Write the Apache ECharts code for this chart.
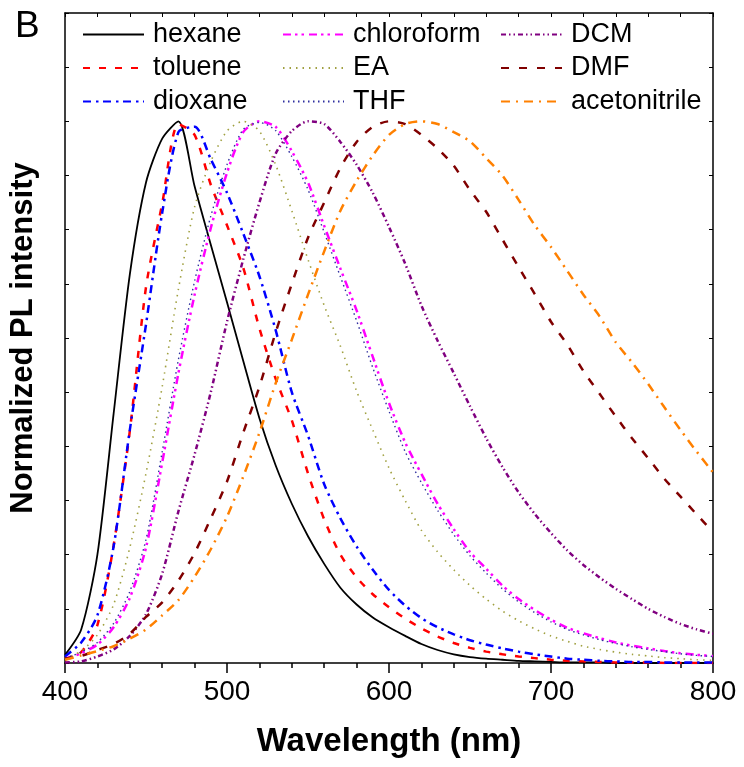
<!DOCTYPE html>
<html><head><meta charset="utf-8">
<script src="https://cdn.jsdelivr.net/npm/echarts@6/dist/echarts.min.js"></script>
<style>html,body{margin:0;padding:0;background:#fff}#c{width:744px;height:767px}</style>
</head><body><div id="c"></div>
<script>
const wavelength = [400,410,420,430,440,450,460,470,480,490,500,510,520,530,540,550,560,570,580,590,600,610,620,630,640,650,660,670,680,690,700,710,720,730,740,750,760,770,780,790,800];
const hexane = [0.015,0.062,0.2,0.46,0.717,0.887,0.968,1.0,0.88,0.772,0.666,0.558,0.452,0.365,0.294,0.234,0.183,0.139,0.108,0.084,0.066,0.05,0.035,0.024,0.016,0.011,0.008,0.006,0.004,0.003,0.002,0.001,0.001,0.001,0,0,0,0,0,0,0];
const toluene = [0.007,0.02,0.07,0.217,0.428,0.694,0.848,0.995,0.975,0.883,0.808,0.73,0.618,0.525,0.448,0.35,0.265,0.2,0.158,0.127,0.103,0.082,0.064,0.049,0.037,0.028,0.021,0.016,0.012,0.009,0.006,0.004,0.003,0.002,0.001,0.001,0.001,0,0,0,0];
const dioxane = [0.012,0.038,0.088,0.215,0.43,0.625,0.831,0.98,0.99,0.93,0.868,0.793,0.714,0.615,0.5,0.42,0.33,0.267,0.215,0.172,0.135,0.106,0.083,0.066,0.053,0.042,0.034,0.027,0.021,0.016,0.012,0.008,0.006,0.004,0.003,0.002,0.002,0.001,0.001,0.001,0.001];
const chloroform = [0.008,0.018,0.034,0.066,0.12,0.213,0.37,0.535,0.68,0.803,0.905,0.98,1.0,0.99,0.945,0.887,0.807,0.728,0.651,0.565,0.48,0.407,0.349,0.294,0.247,0.205,0.174,0.143,0.118,0.098,0.08,0.065,0.055,0.046,0.038,0.032,0.027,0.022,0.018,0.015,0.013];
const EA = [0.008,0.022,0.052,0.108,0.213,0.35,0.51,0.69,0.842,0.926,0.982,1.0,0.982,0.92,0.835,0.745,0.66,0.585,0.502,0.43,0.36,0.3,0.245,0.205,0.172,0.143,0.118,0.096,0.078,0.063,0.05,0.04,0.031,0.025,0.02,0.016,0.013,0.01,0.008,0.006,0.005];
const THF = [0.009,0.02,0.038,0.073,0.132,0.228,0.39,0.56,0.705,0.825,0.92,0.985,0.998,0.983,0.935,0.874,0.795,0.713,0.632,0.545,0.465,0.39,0.333,0.282,0.237,0.198,0.166,0.137,0.113,0.093,0.076,0.062,0.052,0.043,0.036,0.03,0.025,0.021,0.017,0.014,0.012];
const DCM = [0.001,0.003,0.012,0.025,0.05,0.09,0.165,0.28,0.385,0.5,0.63,0.745,0.85,0.94,0.982,1.0,0.995,0.962,0.92,0.868,0.805,0.737,0.66,0.595,0.535,0.474,0.415,0.362,0.315,0.275,0.24,0.208,0.181,0.158,0.137,0.118,0.1,0.085,0.072,0.062,0.054];
const DMF = [0.008,0.013,0.024,0.035,0.054,0.085,0.112,0.152,0.203,0.267,0.335,0.425,0.51,0.61,0.7,0.785,0.85,0.914,0.962,0.99,1.0,0.995,0.975,0.95,0.918,0.873,0.833,0.782,0.731,0.681,0.63,0.588,0.539,0.497,0.455,0.415,0.378,0.34,0.307,0.274,0.242];
const acetonitrile = [0.006,0.014,0.022,0.031,0.045,0.062,0.088,0.116,0.159,0.21,0.27,0.344,0.425,0.516,0.597,0.68,0.76,0.835,0.89,0.937,0.975,0.995,1.0,0.995,0.98,0.963,0.932,0.9,0.855,0.808,0.768,0.724,0.68,0.64,0.592,0.555,0.515,0.472,0.43,0.39,0.352];
const xTicks = [400,500,600,700,800];

const FONT = 'Liberation Sans, Arial, sans-serif';
const seriesDefs = [
  {name:'hexane', data:hexane, color:'#000000', width:1.8, type:'solid'},
  {name:'toluene', data:toluene, color:'#FF0000', width:2.5, type:[7,9]},
  {name:'dioxane', data:dioxane, color:'#0000FF', width:2.5, type:[8,5,2.5,4.5]},
  {name:'chloroform', data:chloroform, color:'#FF00FF', width:2.5, type:[8,4,2.5,4,2.5,5]},
  {name:'EA', data:EA, color:'#A0A040', width:1.6, type:[1.5,5]},
  {name:'THF', data:THF, color:'#3030A0', width:1.4, type:[1.5,3.5]},
  {name:'DCM', data:DCM, color:'#800080', width:2.5, type:[5,3,1.5,3,1.5,3]},
  {name:'DMF', data:DMF, color:'#800000', width:2.5, type:[8,10]},
  {name:'acetonitrile', data:acetonitrile, color:'#FF8000', width:2.5, type:[9,6,2,6]}
];

const legendBase = {
  orient:'vertical', top:21, itemWidth:61, itemHeight:14, itemGap:6.5, padding:0,
  selectedMode:false,
  itemStyle:{opacity:0, borderWidth:0},
  textStyle:{fontSize:27, fontFamily:FONT, color:'#000', padding:[0,0,0,4]}
};

const chart = echarts.init(document.getElementById('c'), null, {renderer:'canvas'});
chart.setOption({
  animation:false,
  backgroundColor:'#fff',
  grid:{left:63, right:31, top:13, bottom:104, containLabel:false},
  graphic:[{type:'text', left:15, top:8, style:{text:'B', fontSize:37, fontFamily:FONT, fill:'#000'}}],
  legend:[
    Object.assign({}, legendBase, {left:82, data:['hexane','toluene','dioxane']}),
    Object.assign({}, legendBase, {left:282, data:['chloroform','EA','THF']}),
    Object.assign({}, legendBase, {left:500, data:['DCM','DMF','acetonitrile']})
  ],
  xAxis:[
    {type:'value', min:400, max:800, interval:100, position:'bottom',
     name:'Wavelength (nm)', nameLocation:'middle', nameGap:62,
     nameTextStyle:{fontSize:33, fontWeight:'bold', fontFamily:FONT, color:'#000'},
     axisLine:{show:true, onZero:false, lineStyle:{color:'#000', width:1.5}},
     axisTick:{show:true, inside:false, length:10, lineStyle:{color:'#000', width:1.5}},
     minorTick:{show:true, splitNumber:5, length:5, lineStyle:{color:'#000', width:1.5}},
     axisLabel:{fontSize:28, fontFamily:FONT, color:'#000', margin:15,
       formatter: v => xTicks.includes(v) ? String(v) : ''},
     splitLine:{show:false}},
    {type:'value', min:400, max:800, interval:20, position:'top',
     axisLine:{show:true, onZero:false, lineStyle:{color:'#000', width:1.5}},
     axisTick:{show:true, inside:true, length:4, lineStyle:{color:'#000', width:1}},
     axisLabel:{show:false}, splitLine:{show:false}}
  ],
  yAxis:[
    {type:'value', min:0, max:1.2, interval:0.1, position:'left',
     name:'Normalized PL intensity', nameLocation:'middle', nameGap:26, nameRotate:90,
     nameTextStyle:{fontSize:31, fontWeight:'bold', fontFamily:FONT, color:'#000'},
     axisLine:{show:true, onZero:false, lineStyle:{color:'#000', width:1.5}},
     axisTick:{show:true, inside:true, length:4, lineStyle:{color:'#000', width:1}},
     axisLabel:{show:false}, splitLine:{show:false}},
    {type:'value', min:0, max:1.2, interval:0.1, position:'right',
     axisLine:{show:true, onZero:false, lineStyle:{color:'#000', width:1.5}},
     axisTick:{show:true, inside:true, length:4, lineStyle:{color:'#000', width:1}},
     axisLabel:{show:false}, splitLine:{show:false}}
  ],
  series: seriesDefs.map(s => ({
    name:s.name, type:'line', xAxisIndex:0, yAxisIndex:0,
    data: wavelength.map((w,i) => [w, s.data[i]]),
    showSymbol:false, symbol:'none', smooth:0.25, clip:true,
    itemStyle:{color:s.color},
    lineStyle:{color:s.color, width:s.width, type:s.type, cap:'butt'}
  }))
});
</script></body></html>
